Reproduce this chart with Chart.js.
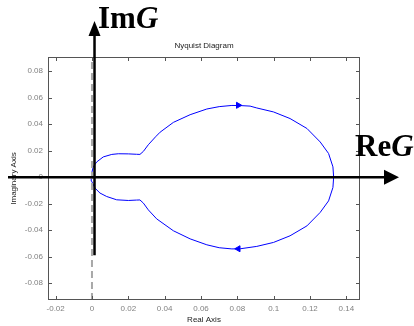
<!DOCTYPE html>
<html>
<head>
<meta charset="utf-8">
<script src="https://cdn.jsdelivr.net/npm/chart.js@4"></script>
<style>
  html, body { margin: 0; padding: 0; background: #fff; }
  canvas { display: block; }
</style>
</head>
<body>
<canvas id="nyquistChart" width="414" height="326"></canvas>
<script>
// Nyquist curve (upper half then lower half back to origin)
const curveRe = [
  -0.0004, -0.0002, 0.0007, 0.0026, 0.0062, 0.0109, 0.0145, 0.020, 0.0245, 0.0264,
  0.0283, 0.031, 0.035, 0.0375, 0.0448, 0.054, 0.0632, 0.070, 0.077, 0.0816,
  0.087, 0.0907, 0.0999, 0.109, 0.1183, 0.1256, 0.1302, 0.1326, 0.133,
  0.1326, 0.1302, 0.1256, 0.1183, 0.109, 0.0999, 0.0907, 0.0816, 0.077, 0.070,
  0.0632, 0.054, 0.0448, 0.0356, 0.031, 0.0283, 0.0264, 0.0245, 0.020, 0.0136,
  0.0081, 0.0044, 0.0017, -0.0002, -0.0004
];
const curveIm = [
  0, 0.0028, 0.0078, 0.0115, 0.0153, 0.0172, 0.0177, 0.0176, 0.0173, 0.0172,
  0.0195, 0.0245, 0.0305, 0.034, 0.0414, 0.0472, 0.0515, 0.0533, 0.0542, 0.0541,
  0.0537, 0.0523, 0.0493, 0.0443, 0.0368, 0.0266, 0.0179, 0.0078, 0,
  -0.0078, -0.0179, -0.0266, -0.0368, -0.0443, -0.0493, -0.0523, -0.0541, -0.0542, -0.0533,
  -0.0511, -0.0466, -0.0405, -0.0315, -0.0247, -0.0196, -0.0172, -0.0173, -0.0176, -0.0171,
  -0.0146, -0.012, -0.0083, -0.003, 0
];

// direction markers on the curve
const arrowRe = [0.0805, 0.0805];
const arrowIm = [0.0543, -0.0541];
const arrowRot = [90, -90];

// axes
const xRange = [-0.0242, 0.1475];
const yRange = [-0.0928, 0.0908];
const xTicks = [-0.02, 0, 0.02, 0.04, 0.06, 0.08, 0.1, 0.12, 0.14];
const xTickLabels = ['-0.02', '0', '0.02', '0.04', '0.06', '0.08', '0.1', '0.12', '0.14'];
const yTicks = [-0.08, -0.06, -0.04, -0.02, 0, 0.02, 0.04, 0.06, 0.08];
const yTickLabels = ['-0.08', '-0.06', '-0.04', '-0.02', '0', '0.02', '0.04', '0.06', '0.08'];

// overlay axis positions (data units)
const imAxisRe = 0.0014;
const imAxisFrom = -0.059;

const SANS = '"Liberation Sans", Arial, sans-serif';
const SERIF = '"Liberation Serif", "Times New Roman", serif';

const curvePoints = curveRe.map((x, i) => ({ x, y: curveIm[i] }));
const arrowPoints = arrowRe.map((x, i) => ({ x, y: arrowIm[i] }));

const matlabFrame = {
  id: 'matlabFrame',
  afterDraw(chart) {
    const { ctx, chartArea: a } = chart;
    const xs = chart.scales.x, ys = chart.scales.y;
    ctx.save();

    // box + inward ticks on all four sides
    ctx.strokeStyle = '#555';
    ctx.lineWidth = 1;
    ctx.strokeRect(a.left + 0.5, a.top + 0.5, a.right - a.left - 1, a.bottom - a.top - 1);
    ctx.beginPath();
    xTicks.forEach(v => {
      const px = Math.round(xs.getPixelForValue(v)) + 0.5;
      ctx.moveTo(px, a.bottom); ctx.lineTo(px, a.bottom - 4);
      ctx.moveTo(px, a.top); ctx.lineTo(px, a.top + 4);
    });
    yTicks.forEach(v => {
      const py = Math.round(ys.getPixelForValue(v)) + 0.5;
      ctx.moveTo(a.left, py); ctx.lineTo(a.left + 4, py);
      ctx.moveTo(a.right, py); ctx.lineTo(a.right - 4, py);
    });
    ctx.stroke();

    // title + axis labels
    const cx = (a.left + a.right) / 2;
    ctx.fillStyle = '#222';
    ctx.font = '8px ' + SANS;
    ctx.textAlign = 'center';
    ctx.textBaseline = 'middle';
    ctx.fillText('Nyquist Diagram', cx, 46);
    ctx.fillText('Real Axis', cx, 320);
    ctx.save();
    ctx.translate(14, (a.top + a.bottom) / 2);
    ctx.rotate(-Math.PI / 2);
    ctx.fillText('Imaginary Axis', 0, 0);
    ctx.restore();

    // thick black Re / Im axes with arrow heads
    ctx.strokeStyle = '#000';
    ctx.fillStyle = '#000';
    ctx.lineWidth = 2.5;
    const y0 = ys.getPixelForValue(0);
    const xIm = xs.getPixelForValue(imAxisRe);
    ctx.beginPath();
    ctx.moveTo(8, y0); ctx.lineTo(386, y0);
    ctx.moveTo(xIm, ys.getPixelForValue(imAxisFrom)); ctx.lineTo(xIm, 34);
    ctx.stroke();
    ctx.beginPath();
    ctx.moveTo(399, y0); ctx.lineTo(384, y0 - 7.5); ctx.lineTo(384, y0 + 7.5); ctx.closePath();
    ctx.fill();
    ctx.beginPath();
    ctx.moveTo(xIm, 21); ctx.lineTo(xIm - 6, 36); ctx.lineTo(xIm + 6, 36); ctx.closePath();
    ctx.fill();

    // ImG / ReG
    ctx.textAlign = 'left';
    ctx.textBaseline = 'alphabetic';
    const drawLabel = (head, x, y) => {
      ctx.font = 'bold 31px ' + SERIF;
      ctx.fillText(head, x, y);
      const w = ctx.measureText(head).width;
      ctx.font = 'italic bold 31px ' + SERIF;
      ctx.fillText('G', x + w, y);
    };
    drawLabel('Im', 98, 28);
    drawLabel('Re', 355, 156);

    ctx.restore();
  }
};

new Chart(document.getElementById('nyquistChart'), {
  type: 'scatter',
  data: {
    datasets: [
      {
        label: 'x = 0',
        data: [{ x: 0, y: yRange[0] }, { x: 0, y: yRange[1] }],
        showLine: true,
        borderColor: '#a8a8a8',
        borderWidth: 2,
        borderDash: [7, 4],
        pointRadius: 0
      },
      {
        label: 'G(jw)',
        data: curvePoints,
        showLine: true,
        borderColor: '#0000ff',
        borderWidth: 1,
        tension: 0,
        pointRadius: 0
      },
      {
        label: 'direction',
        data: arrowPoints,
        showLine: false,
        pointStyle: 'triangle',
        rotation: arrowRot,
        pointRadius: 3.5,
        backgroundColor: '#0000ff',
        borderColor: '#0000ff',
        borderWidth: 1
      }
    ]
  },
  options: {
    responsive: false,
    animation: false,
    devicePixelRatio: 1,
    layout: { padding: { left: 0, top: 57, right: 54, bottom: 0 } },
    plugins: {
      legend: { display: false },
      tooltip: { enabled: false },
      title: { display: false }
    },
    scales: {
      x: {
        type: 'linear',
        min: xRange[0],
        max: xRange[1],
        grid: { display: false, drawTicks: false },
        border: { display: false },
        afterBuildTicks: axis => { axis.ticks = xTicks.map(v => ({ value: v })); },
        afterFit: axis => { axis.height = 26; },
        ticks: {
          autoSkip: false,
          maxRotation: 0,
          padding: 4,
          color: '#808080',
          font: { family: SANS, size: 8 },
          callback: (value, index) => xTickLabels[index]
        }
      },
      y: {
        type: 'linear',
        min: yRange[0],
        max: yRange[1],
        grid: { display: false, drawTicks: false },
        border: { display: false },
        afterBuildTicks: axis => { axis.ticks = yTicks.map(v => ({ value: v })); },
        afterFit: axis => { axis.width = 48; },
        ticks: {
          autoSkip: false,
          padding: 5,
          color: '#808080',
          font: { family: SANS, size: 8 },
          callback: (value, index) => yTickLabels[index]
        }
      }
    }
  },
  plugins: [matlabFrame]
});
</script>
</body>
</html>
